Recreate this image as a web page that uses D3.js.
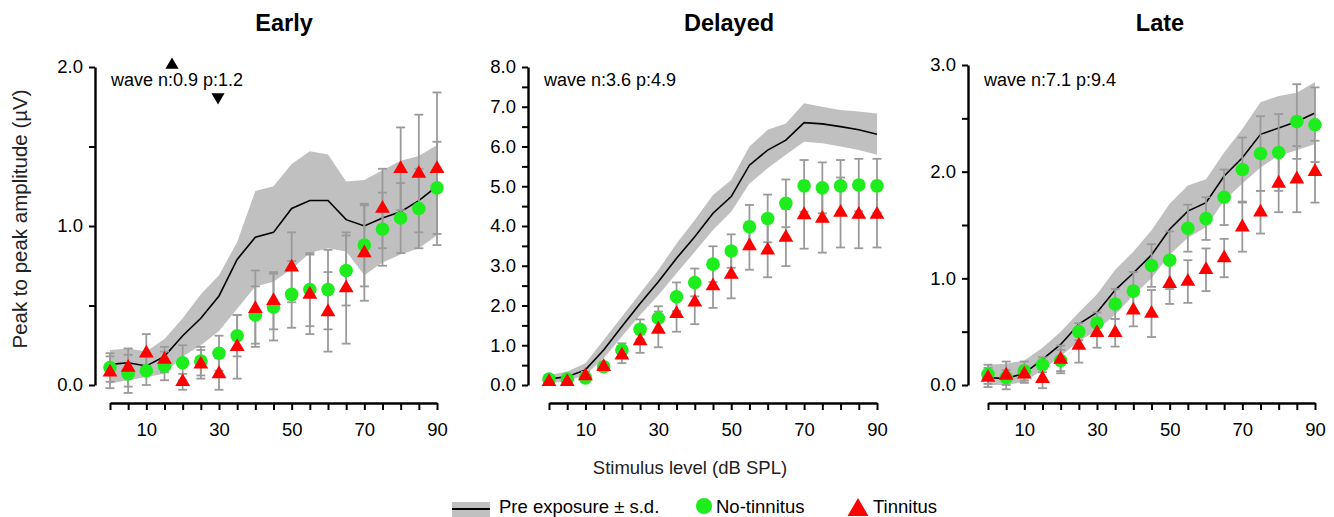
<!DOCTYPE html>
<html>
<head>
<meta charset="utf-8">
<script src="https://cdn.jsdelivr.net/npm/d3@7"></script>
<style>
  body { margin: 0; background: #fff; }
  svg { display: block; font-family: "Liberation Sans", Arial, sans-serif; }
</style>
</head>
<body>
<svg id="chart" width="1334" height="517"></svg>
<script>
// stimulus levels (dB SPL)
const levels = [0, 5, 10, 15, 20, 25, 30, 35, 40, 45, 50, 55, 60, 65, 70, 75, 80, 85, 90];
const xTicks = [0, 5, 10, 15, 20, 25, 30, 35, 40, 45, 50, 55, 60, 65, 70, 75, 80, 85, 90];
const xLabels = [10, 30, 50, 70, 90];

// Early
const earlyPre   = [0.13, 0.14, 0.12, 0.18, 0.31, 0.42, 0.56, 0.79, 0.93, 0.96, 1.11, 1.16, 1.16, 1.04, 1.00, 1.05, 1.09, 1.16, 1.25];
const earlyPreHi = [0.22, 0.23, 0.21, 0.29, 0.42, 0.57, 0.69, 0.90, 1.22, 1.25, 1.39, 1.47, 1.45, 1.28, 1.29, 1.35, 1.41, 1.44, 1.51];
const earlyPreLo = [0.01, 0.03, 0.05, 0.07, 0.18, 0.25, 0.34, 0.48, 0.62, 0.65, 0.73, 0.83, 0.86, 0.84, 0.69, 0.77, 0.82, 0.86, 0.94];
const earlyNoTin   = [0.11, 0.07, 0.09, 0.12, 0.14, 0.15, 0.20, 0.31, 0.44, 0.49, 0.57, 0.60, 0.60, 0.72, 0.88, 0.98, 1.05, 1.11, 1.24];
const earlyNoTinSd = [0.09, 0.12, 0.09, 0.09, 0.11, 0.09, 0.11, 0.13, 0.18, 0.21, 0.21, 0.23, 0.25, 0.22, 0.26, 0.23, 0.22, 0.25, 0.29];
const earlyTin   = [0.08, 0.11, 0.20, 0.16, 0.02, 0.13, 0.07, 0.24, 0.48, 0.53, 0.74, 0.57, 0.46, 0.61, 0.83, 1.11, 1.36, 1.33, 1.36];
const earlyTinSd = [0.10, 0.12, 0.12, 0.08, 0.05, 0.09, 0.10, 0.20, 0.24, 0.18, 0.22, 0.25, 0.25, 0.35, 0.30, 0.25, 0.26, 0.37, 0.48];
const earlyYTicks = [0, 0.5, 1, 1.5, 2];

// Delayed
const delayedPre   = [0.15, 0.21, 0.38, 0.88, 1.47, 2.05, 2.60, 3.19, 3.73, 4.32, 4.74, 5.53, 5.91, 6.16, 6.60, 6.57, 6.50, 6.42, 6.31];
const delayedPreHi = [0.25, 0.34, 0.55, 1.13, 1.72, 2.31, 2.89, 3.56, 4.15, 4.78, 5.16, 6.00, 6.42, 6.58, 7.09, 7.00, 6.92, 6.88, 6.83];
const delayedPreLo = [0.04, 0.10, 0.25, 0.67, 1.22, 1.76, 2.26, 2.81, 3.35, 3.90, 4.36, 5.07, 5.45, 5.79, 6.12, 6.08, 6.00, 5.91, 5.79];
const delayedNoTin   = [0.15, 0.15, 0.18, 0.46, 0.88, 1.40, 1.68, 2.22, 2.58, 3.04, 3.37, 3.98, 4.19, 4.57, 5.01, 4.96, 5.01, 5.03, 5.01];
const delayedNoTinSd = [0.08, 0.08, 0.10, 0.10, 0.17, 0.25, 0.30, 0.36, 0.35, 0.45, 0.42, 0.55, 0.60, 0.60, 0.65, 0.64, 0.65, 0.66, 0.68];
const delayedTin   = [0.08, 0.08, 0.23, 0.46, 0.75, 1.11, 1.40, 1.79, 2.08, 2.49, 2.78, 3.50, 3.39, 3.71, 4.28, 4.19, 4.34, 4.29, 4.29];
const delayedTinSd = [0.07, 0.07, 0.10, 0.10, 0.20, 0.30, 0.45, 0.45, 0.55, 0.55, 0.60, 0.60, 0.68, 0.72, 0.85, 0.86, 0.88, 0.85, 0.83];
const delayedYTicks = [0, 0.5, 1, 1.5, 2, 2.5, 3, 3.5, 4, 4.5, 5, 5.5, 6, 6.5, 7, 7.5, 8];

// Late
const latePre   = [0.07, 0.06, 0.11, 0.24, 0.38, 0.57, 0.68, 0.89, 1.05, 1.22, 1.46, 1.63, 1.71, 1.96, 2.13, 2.35, 2.41, 2.47, 2.55];
const latePreHi = [0.19, 0.20, 0.23, 0.35, 0.50, 0.68, 0.85, 1.08, 1.25, 1.45, 1.70, 1.87, 1.93, 2.18, 2.40, 2.65, 2.71, 2.74, 2.84];
const latePreLo = [0.00, 0.00, 0.03, 0.14, 0.27, 0.41, 0.51, 0.66, 0.84, 1.00, 1.22, 1.38, 1.48, 1.73, 1.89, 2.04, 2.15, 2.20, 2.26];
const lateNoTin   = [0.10, 0.07, 0.13, 0.19, 0.23, 0.50, 0.58, 0.76, 0.88, 1.12, 1.17, 1.47, 1.56, 1.76, 2.02, 2.17, 2.18, 2.47, 2.44];
const lateNoTinSd = [0.09, 0.07, 0.09, 0.07, 0.10, 0.08, 0.10, 0.14, 0.18, 0.20, 0.27, 0.22, 0.20, 0.26, 0.30, 0.35, 0.36, 0.35, 0.35];
const lateTin   = [0.07, 0.09, 0.10, 0.06, 0.24, 0.37, 0.49, 0.49, 0.70, 0.67, 0.95, 0.97, 1.08, 1.19, 1.48, 1.62, 1.89, 1.93, 2.00];
const lateTinSd = [0.09, 0.13, 0.08, 0.09, 0.13, 0.16, 0.14, 0.13, 0.15, 0.22, 0.19, 0.20, 0.20, 0.18, 0.23, 0.20, 0.27, 0.31, 0.29];
const lateYTicks = [0, 0.5, 1, 1.5, 2, 2.5, 3];

const green = '#1ded1d';
const red = '#ff0000';
const bandGrey = '#c0c0c0';
const barGrey = '#9a9a9a';
const font = '"Liberation Sans", Arial, sans-serif';

const panels = [
  { title: 'Early', note: 'wave n:0.9 p:1.2', yMax: 2, yTicks: earlyYTicks,
    pre: earlyPre, hi: earlyPreHi, lo: earlyPreLo,
    noTin: earlyNoTin, noTinSd: earlyNoTinSd, tin: earlyTin, tinSd: earlyTinSd,
    axisX: 95, x0: 110, x1: 437, top: 67, titleX: 284, peaks: true },
  { title: 'Delayed', note: 'wave n:3.6 p:4.9', yMax: 8, yTicks: delayedYTicks,
    pre: delayedPre, hi: delayedPreHi, lo: delayedPreLo,
    noTin: delayedNoTin, noTinSd: delayedNoTinSd, tin: delayedTin, tinSd: delayedTinSd,
    axisX: 528, x0: 549, x1: 877, top: 67, titleX: 729 },
  { title: 'Late', note: 'wave n:7.1 p:9.4', yMax: 3, yTicks: lateYTicks,
    pre: latePre, hi: latePreHi, lo: latePreLo,
    noTin: lateNoTin, noTinSd: lateNoTinSd, tin: lateTin, tinSd: lateTinSd,
    axisX: 968, x0: 988, x1: 1315, top: 65, titleX: 1160 }
];

const svg = d3.select('#chart');
const bottom = 385;
const xAxisY = 403;

panels.forEach(p => {
  const x = d3.scaleLinear().domain([0, 90]).range([p.x0, p.x1]);
  const y = d3.scaleLinear().domain([0, p.yMax]).range([bottom, p.top]);
  const g = svg.append('g');

  // title
  g.append('text')
    .attr('x', p.titleX).attr('y', 31)
    .attr('text-anchor', 'middle')
    .attr('font-size', 23.5).attr('font-weight', 'bold')
    .text(p.title);

  // pre exposure band +- s.d.
  const band = d3.area()
    .x((d, i) => x(levels[i]))
    .y0((d, i) => y(p.lo[i]))
    .y1((d, i) => y(p.hi[i]));
  g.append('path').datum(p.pre)
    .attr('d', band)
    .attr('fill', bandGrey);

  const line = d3.line()
    .x((d, i) => x(levels[i]))
    .y(d => y(d));
  g.append('path').datum(p.pre)
    .attr('d', line)
    .attr('fill', 'none')
    .attr('stroke', '#000')
    .attr('stroke-width', 1.6);

  // error bars for both groups
  const bars = [
    { mean: p.noTin, sd: p.noTinSd },
    { mean: p.tin, sd: p.tinSd }
  ];
  bars.forEach(b => {
    const eb = g.append('g')
      .attr('stroke', barGrey)
      .attr('stroke-width', 1.8)
      .selectAll('g')
      .data(b.mean)
      .join('g');
    eb.append('line')
      .attr('x1', (d, i) => x(levels[i])).attr('x2', (d, i) => x(levels[i]))
      .attr('y1', (d, i) => y(d + b.sd[i])).attr('y2', (d, i) => y(d - b.sd[i]));
    eb.append('line')
      .attr('x1', (d, i) => x(levels[i]) - 4.5).attr('x2', (d, i) => x(levels[i]) + 4.5)
      .attr('y1', (d, i) => y(d + b.sd[i])).attr('y2', (d, i) => y(d + b.sd[i]));
    eb.append('line')
      .attr('x1', (d, i) => x(levels[i]) - 4.5).attr('x2', (d, i) => x(levels[i]) + 4.5)
      .attr('y1', (d, i) => y(d - b.sd[i])).attr('y2', (d, i) => y(d - b.sd[i]));
  });

  // no-tinnitus circles
  g.append('g').selectAll('circle')
    .data(p.noTin)
    .join('circle')
    .attr('cx', (d, i) => x(levels[i]))
    .attr('cy', d => y(d))
    .attr('r', 6.8)
    .attr('fill', green);

  // tinnitus triangles
  const tri = d3.symbol(d3.symbolTriangle, 95);
  g.append('g').selectAll('path')
    .data(p.tin)
    .join('path')
    .attr('d', tri)
    .attr('transform', (d, i) => `translate(${x(levels[i])},${y(d)})`)
    .attr('fill', red);

  // y axis
  const yAxis = d3.axisLeft(y)
    .tickValues(p.yTicks)
    .tickFormat(d => Number.isInteger(d) ? d.toFixed(1) : '')
    .tickSize(6)
    .tickSizeOuter(0)
    .tickPadding(6);
  const ya = g.append('g')
    .attr('transform', `translate(${p.axisX},0)`)
    .call(yAxis);
  ya.select('.domain').attr('stroke-width', 2.4);
  ya.selectAll('.tick line').attr('stroke-width', 2);
  ya.selectAll('text').attr('font-size', 18.5).attr('fill', '#000')
    .attr('font-family', font);

  // x axis, detached below the plot
  const xAxis = d3.axisBottom(x)
    .tickValues(xTicks)
    .tickFormat(d => xLabels.includes(d) ? d : '')
    .tickSize(7)
    .tickSizeOuter(0)
    .tickPadding(13);
  const xa = g.append('g')
    .attr('transform', `translate(0,${xAxisY})`)
    .call(xAxis);
  xa.select('.domain').attr('stroke-width', 2.4);
  xa.selectAll('.tick line').attr('stroke-width', 2);
  xa.selectAll('text').attr('font-size', 18.5).attr('fill', '#000')
    .attr('font-family', font);

  // wave annotation
  g.append('text')
    .attr('x', p.axisX + 16).attr('y', 86)
    .attr('font-size', 18)
    .text(p.note);

  if (p.peaks) {
    g.append('path')
      .attr('d', d3.symbol(d3.symbolTriangle, 75))
      .attr('transform', `translate(172,65)`);
    g.append('path')
      .attr('d', d3.symbol(d3.symbolTriangle, 75))
      .attr('transform', `translate(218,97) rotate(180)`);
  }
});

// shared axis titles
svg.append('text')
  .attr('transform', 'translate(27,219) rotate(-90)')
  .attr('text-anchor', 'middle')
  .attr('font-size', 20.5)
  .attr('fill', '#222')
  .text('Peak to peak amplitude (µV)');

svg.append('text')
  .attr('x', 690).attr('y', 474)
  .attr('text-anchor', 'middle')
  .attr('font-size', 18.5)
  .attr('fill', '#222')
  .text('Stimulus level (dB SPL)');

// legend
const legend = svg.append('g');
legend.append('rect')
  .attr('x', 452).attr('y', 502).attr('width', 38).attr('height', 15)
  .attr('fill', bandGrey);
legend.append('line')
  .attr('x1', 452).attr('x2', 490).attr('y1', 509).attr('y2', 509)
  .attr('stroke', '#000').attr('stroke-width', 1.8);
legend.append('text')
  .attr('x', 499).attr('y', 513).attr('font-size', 18.5).text('Pre exposure ± s.d.');
legend.append('circle')
  .attr('cx', 704).attr('cy', 506).attr('r', 8).attr('fill', green);
legend.append('text')
  .attr('x', 716).attr('y', 513).attr('font-size', 18.5).text('No-tinnitus');
legend.append('path')
  .attr('d', d3.symbol(d3.symbolTriangle, 190))
  .attr('transform', 'translate(858,510)')
  .attr('fill', red);
legend.append('text')
  .attr('x', 873).attr('y', 513).attr('font-size', 18.5).text('Tinnitus');
</script>
</body>
</html>
